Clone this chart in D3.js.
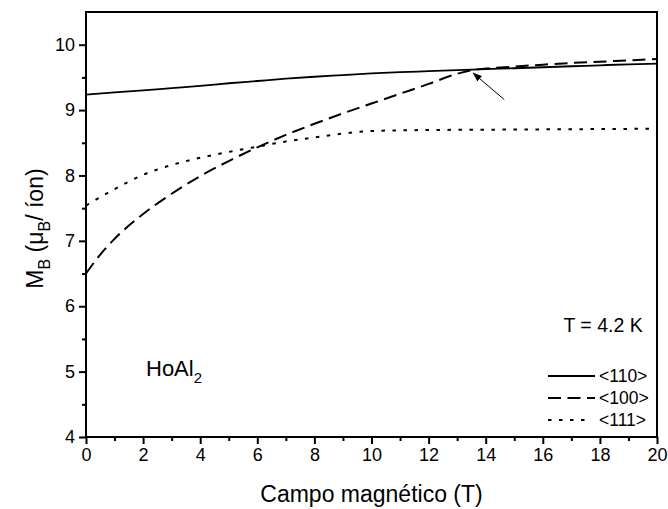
<!DOCTYPE html>
<html>
<head>
<meta charset="utf-8">
<script src="https://cdn.jsdelivr.net/npm/d3@7/dist/d3.min.js"></script>
<style>
  html, body { margin: 0; padding: 0; background: #fff; }
  svg { display: block; }
  text { font-family: "Liberation Sans", Arial, Helvetica, sans-serif; fill: #000; }
</style>
</head>
<body>
<svg id="chart" width="668" height="509"></svg>
<script>
// Magnetization of HoAl2 at 4.2 K along three crystal directions
const field110 = [0, 1, 2, 3, 4, 5, 6, 7, 8, 9, 10, 11, 12, 13, 14, 15, 16, 17, 18, 19, 20];
const m110     = [9.235, 9.27, 9.30, 9.335, 9.37, 9.41, 9.445, 9.48, 9.51, 9.535, 9.56, 9.58, 9.595, 9.61, 9.625, 9.64, 9.655, 9.67, 9.685, 9.70, 9.71];

const field100 = [0, 0.5, 1, 2, 3, 4, 5, 6, 7, 8, 9, 10, 11, 12, 13, 13.5, 14, 15, 16, 17, 18, 19, 20];
const m100     = [6.50, 6.79, 7.03, 7.41, 7.72, 7.99, 8.22, 8.43, 8.62, 8.79, 8.95, 9.10, 9.25, 9.40, 9.555, 9.61, 9.635, 9.665, 9.695, 9.72, 9.74, 9.76, 9.78];

const field111 = [0, 1, 2, 3, 4, 5, 6, 7, 8, 9, 10, 11, 12, 14, 16, 18, 20];
const m111     = [7.54, 7.79, 8.01, 8.16, 8.27, 8.36, 8.44, 8.52, 8.58, 8.64, 8.68, 8.69, 8.695, 8.70, 8.705, 8.71, 8.715];

const seriesNames = ["<110>", "<100>", "<111>"];
const xTicks = [0, 2, 4, 6, 8, 10, 12, 14, 16, 18, 20];
const yTicks = [4, 5, 6, 7, 8, 9, 10];

// arrow pointing at the <110>/<100> crossing (field, moment)
const arrowFrom = [14.65, 9.16];
const arrowTo   = [13.55, 9.57];

const svg = d3.select("#chart");
const margin = { left: 86, right: 11, top: 12, bottom: 72 };
const W = 668, H = 509;

const x = d3.scaleLinear().domain([0, 20]).range([margin.left, W - margin.right]);
const y = d3.scaleLinear().domain([4, 10.5]).range([H - margin.bottom, margin.top]);

const styles = [
  { dash: null,       width: 1.8 },
  { dash: "13,6.5",   width: 2.0 },
  { dash: "3.5,7.5",  width: 2.0 }
];

// frame
svg.append("rect")
  .attr("x", x(0)).attr("y", y(10.5))
  .attr("width", x(20) - x(0)).attr("height", y(4) - y(10.5))
  .attr("fill", "none").attr("stroke", "#000").attr("stroke-width", 2);

// axes with major + minor ticks
const xAxis = d3.axisBottom(x).tickValues(xTicks).tickSize(7).tickPadding(4).tickFormat(d3.format("d"));
const xMinor = d3.axisBottom(x).tickValues(d3.range(1, 20, 2)).tickSize(4).tickFormat("");
const yAxis = d3.axisLeft(y).tickValues(yTicks).tickSize(7).tickPadding(4).tickFormat(d3.format("d"));
const yMinor = d3.axisLeft(y).tickValues(d3.range(4.5, 10.5, 1)).tickSize(4).tickFormat("");

function styleAxis(g) {
  g.select(".domain").remove();
  g.selectAll(".tick line").attr("stroke", "#000").attr("stroke-width", 2);
  g.selectAll(".tick text").style("font-size", "18px").attr("fill", "#000")
    .style("font-family", '"Liberation Sans", Arial, sans-serif');
}

svg.append("g").attr("transform", `translate(0,${y(4)})`).call(xAxis).call(styleAxis);
svg.append("g").attr("transform", `translate(0,${y(4)})`).call(xMinor).call(styleAxis);
svg.append("g").attr("transform", `translate(${x(0)},0)`).call(yAxis).call(styleAxis);
svg.append("g").attr("transform", `translate(${x(0)},0)`).call(yMinor).call(styleAxis);

// curves
const line = d3.line().x(d => x(d[0])).y(d => y(d[1])).curve(d3.curveMonotoneX);
const data = [
  d3.zip(field110, m110),
  d3.zip(field100, m100),
  d3.zip(field111, m111)
];
data.forEach((pts, i) => {
  svg.append("path")
    .attr("d", line(pts))
    .attr("fill", "none")
    .attr("stroke", "#000")
    .attr("stroke-width", styles[i].width)
    .attr("stroke-dasharray", styles[i].dash);
});

// arrow
svg.append("defs").append("marker")
  .attr("id", "head").attr("viewBox", "0 0 10 10")
  .attr("refX", 10).attr("refY", 5)
  .attr("markerWidth", 9).attr("markerHeight", 9)
  .attr("markerUnits", "userSpaceOnUse")
  .attr("orient", "auto")
  .append("path").attr("d", "M0,1 L10,5 L0,9 Z").attr("fill", "#000");
svg.append("line")
  .attr("x1", x(arrowFrom[0])).attr("y1", y(arrowFrom[1]))
  .attr("x2", x(arrowTo[0])).attr("y2", y(arrowTo[1]))
  .attr("stroke", "#000").attr("stroke-width", 1)
  .attr("marker-end", "url(#head)");

// annotations
svg.append("text")
  .attr("x", x(19.5)).attr("y", 332)
  .attr("text-anchor", "end").style("font-size", "19.5px")
  .text("T = 4.2 K");

const ho = svg.append("text")
  .attr("x", 146).attr("y", 376).style("font-size", "22px");
ho.append("tspan").text("HoAl");
ho.append("tspan").attr("dy", 7).style("font-size", "15px").text("2");

// legend
const legY = [376, 398, 420];
seriesNames.forEach((name, i) => {
  svg.append("line")
    .attr("x1", 548).attr("x2", i === 2 ? 590 : 595)
    .attr("y1", legY[i]).attr("y2", legY[i])
    .attr("stroke", "#000").attr("stroke-width", styles[i].width)
    .attr("stroke-dasharray", styles[i].dash);
  svg.append("text")
    .attr("x", 599).attr("y", legY[i]).attr("dy", "0.36em")
    .style("font-size", "17.5px").text(name);
});

// axis titles
svg.append("text")
  .attr("x", (x(0) + x(20)) / 2).attr("y", 502)
  .attr("text-anchor", "middle").style("font-size", "23px")
  .text("Campo magnético (T)");

const yt = svg.append("text")
  .attr("transform", `translate(43,${(y(4) + y(10.5)) / 2 + 4}) rotate(-90)`)
  .attr("text-anchor", "middle").style("font-size", "23px");
yt.append("tspan").text("M");
yt.append("tspan").attr("dy", 7).style("font-size", "16px").text("B");
yt.append("tspan").attr("dy", -7).text(" (μ");
yt.append("tspan").attr("dy", 7).style("font-size", "16px").text("B");
yt.append("tspan").attr("dy", -7).text("/ íon)");
</script>
</body>
</html>
